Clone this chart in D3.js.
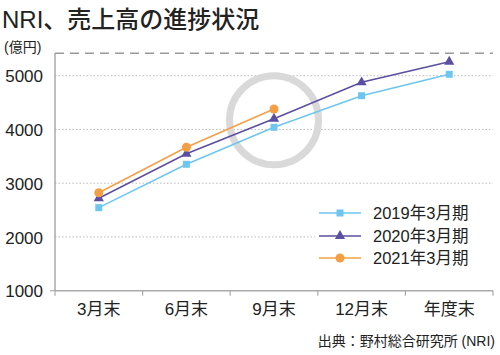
<!DOCTYPE html>
<html><head><meta charset="utf-8">
<script src="https://cdn.jsdelivr.net/npm/d3@7"></script>
<style>
body{margin:0;background:#fff;}
text{font-family:"Liberation Sans","Noto Sans CJK JP",sans-serif;fill:#222;}
</style></head>
<body><svg id="c" width="500" height="355"></svg>
<script>
const categories = ["3月末","6月末","9月末","12月末","年度末"];
const seriesNames = ["2019年3月期","2020年3月期","2021年3月期"];
const fy2019 = [2545, 3352, 4040, 4628, 5026];
const fy2020 = [2720, 3548, 4200, 4877, 5260];
const fy2021 = [2823, 3668, 4380];
const yTicks = [1000, 2000, 3000, 4000, 5000];
const targetValue = 5420;
const highlightValue = 4170;
const colors = ["#6ec6f0", "#5a4fa0", "#f59f45"];
const markers = ["square", "triangle", "circle"];

(function () {
const svg = d3.select("#c");
const mLeft = 55, mRight = 493, mTop = 53;
const x = d3.scaleBand().domain(categories).range([mLeft, mRight]);
const y = d3.scaleLinear().domain([1000, 5000]).range([290.7, 75.7]);
const mBottom = y(1000);

// title
svg.append("text").attr("x", 2).attr("y", 28).attr("font-size", 24)
  .attr("font-weight", 500).text("NRI、売上高の進捗状況");
svg.append("text").attr("x", 4).attr("y", 52).attr("font-size", 14).text("(億円)");

// gridlines
svg.append("g").selectAll("line").data(yTicks.slice(1)).join("line")
  .attr("x1", mLeft).attr("x2", mRight).attr("y1", d => y(d)).attr("y2", d => y(d))
  .attr("stroke", "#bbb").attr("stroke-width", 1).attr("stroke-dasharray", "1.5,2");

// target dashed line
svg.append("line").attr("x1", mLeft).attr("x2", mRight)
  .attr("y1", y(targetValue)).attr("y2", y(targetValue))
  .attr("stroke", "#999").attr("stroke-width", 1.5).attr("stroke-dasharray", "9,6");

// y axis
const yAxis = svg.append("g").attr("transform", `translate(${mLeft},0)`)
  .call(d3.axisLeft(y).tickValues(yTicks).tickSize(0).tickPadding(12).tickFormat(d3.format("d")));
yAxis.select(".domain").remove();
yAxis.selectAll("text").attr("font-size", 17).attr("fill", "#222")
  .attr("font-family", "Liberation Sans, sans-serif").attr("dy", "0.36em");
svg.append("line").attr("x1", mLeft).attr("x2", mLeft).attr("y1", mTop).attr("y2", mBottom)
  .attr("stroke", "#aaa").attr("stroke-width", 1.5);
svg.append("line").attr("x1", mLeft - 5).attr("x2", mLeft).attr("y1", mBottom).attr("y2", mBottom)
  .attr("stroke", "#aaa").attr("stroke-width", 1.2);

// x axis
svg.append("line").attr("x1", mLeft).attr("x2", mRight).attr("y1", mBottom).attr("y2", mBottom)
  .attr("stroke", "#aaa").attr("stroke-width", 1.5);
const bounds = categories.map(c => x(c)).concat([mRight]);
svg.append("g").selectAll("line").data(bounds).join("line")
  .attr("x1", d => d).attr("x2", d => d).attr("y1", mBottom).attr("y2", mBottom + 5)
  .attr("stroke", "#aaa").attr("stroke-width", 1.2);
svg.append("g").selectAll("text").data(categories).join("text")
  .attr("x", d => x(d) + x.bandwidth() / 2).attr("y", 315).attr("text-anchor", "middle")
  .attr("font-size", 17).text(d => d);

// highlight circle
svg.append("circle").attr("cx", x("9月末") + x.bandwidth() / 2).attr("cy", y(highlightValue))
  .attr("r", 44.5).attr("fill", "none").attr("stroke", "#d9d9d9").attr("stroke-width", 7);

// series
const allSeries = [fy2019, fy2020, fy2021];
const cx = (i) => x(categories[i]) + x.bandwidth() / 2;
const line = d3.line().x((d, i) => cx(i)).y(d => y(d));
function drawMarker(g, type, px, py, color) {
  if (type === "square") {
    g.append("rect").attr("x", px - 3.5).attr("y", py - 3.5).attr("width", 7).attr("height", 7).attr("fill", color);
  } else if (type === "triangle") {
    g.append("path").attr("d", d3.symbol().type(d3.symbolTriangle).size(45)()).attr("transform", `translate(${px},${py})`).attr("fill", color);
  } else {
    g.append("circle").attr("cx", px).attr("cy", py).attr("r", 4.5).attr("fill", color);
  }
}
allSeries.forEach((s, k) => {
  const g = svg.append("g");
  g.append("path").attr("d", line(s)).attr("fill", "none").attr("stroke", colors[k]).attr("stroke-width", 1.5);
  s.forEach((v, i) => drawMarker(g, markers[k], cx(i), y(v), colors[k]));
});

// legend
const legY = [213, 236, 258];
seriesNames.forEach((n, k) => {
  const g = svg.append("g");
  g.append("rect").attr("x", 315).attr("y", legY[k] - 10).attr("width", 178).attr("height", 20).attr("fill", "#fff");
  g.append("line").attr("x1", 319).attr("x2", 361).attr("y1", legY[k]).attr("y2", legY[k])
    .attr("stroke", colors[k]).attr("stroke-width", 1.5);
  drawMarker(g, markers[k], 340, legY[k], colors[k]);
  g.append("text").attr("x", 373).attr("y", legY[k] + 6).attr("font-size", 16.5).text(n);
});

// source
svg.append("text").attr("x", 495).attr("y", 346).attr("text-anchor", "end").attr("font-size", 14)
  .text("出典：野村総合研究所 (NRI)");
})();
</script></body></html>
